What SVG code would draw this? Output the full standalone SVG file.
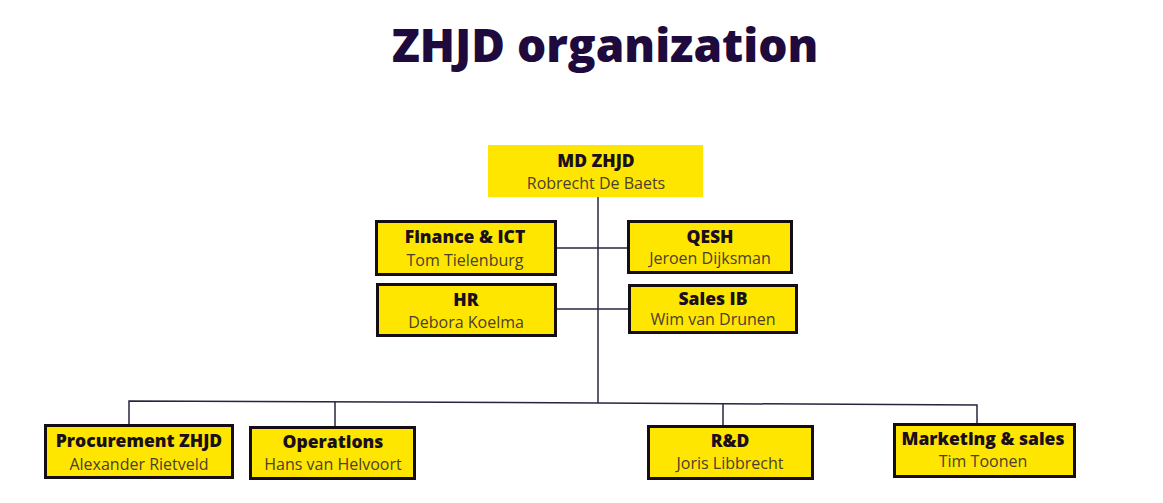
<svg xmlns="http://www.w3.org/2000/svg" width="1163" height="503" viewBox="0 0 1163 503">
<style>
.box{fill:#FFE600;stroke:#140d14;stroke-width:3}
.t{font-family:"Open Sans","Noto Sans",sans-serif;font-weight:800;font-size:17.5px;fill:#1a0f1c;text-anchor:middle}
.n{font-family:"Open Sans","Noto Sans",sans-serif;font-weight:400;font-size:16px;fill:#4a4030;text-anchor:middle}
.c{fill:none;stroke:#2a2340;stroke-width:1.5}
</style>
<rect width="1163" height="503" fill="#fff"/>
<text x="605" y="62" font-family="'Open Sans','Noto Sans',sans-serif" font-weight="800" font-size="46" fill="#1e0a3c" text-anchor="middle">ZHJD organization</text>
<g id="connectors">
<line class="c" x1="598" y1="192" x2="598" y2="403"/>
<line class="c" x1="556" y1="248" x2="628" y2="248"/>
<line class="c" x1="556" y1="309" x2="629" y2="309"/>
<polyline class="c" points="129,427 129,401 598,403 977,405 977,426"/>
<line class="c" x1="335" y1="401.5" x2="335" y2="428"/>
<line class="c" x1="723" y1="404" x2="723" y2="427"/>
</g>
<g id="md">
<rect x="488" y="145" width="215" height="52" fill="#FFE600"/>
<text class="t" x="596" y="167">MD ZHJD</text>
<text class="n" x="596" y="189">Robrecht De Baets</text>
</g>
<g id="finance">
<rect class="box" x="376.5" y="221.5" width="179" height="53"/>
<text class="t" x="465" y="243">Finance &amp; ICT</text>
<text class="n" x="465" y="266" fill="#2a2520">Tom Tielenburg</text>
</g>
<g id="qesh">
<rect class="box" x="628.5" y="221.5" width="163" height="51"/>
<text class="t" x="710" y="243">QESH</text>
<text class="n" x="710" y="264">Jeroen Dijksman</text>
</g>
<g id="hr">
<rect class="box" x="377.5" y="284.5" width="178" height="51"/>
<text class="t" x="466" y="306">HR</text>
<text class="n" x="466" y="328">Debora Koelma</text>
</g>
<g id="sales">
<rect class="box" x="629.5" y="285.5" width="167" height="47"/>
<text class="t" x="713" y="305">Sales IB</text>
<text class="n" x="713" y="325">Wim van Drunen</text>
</g>
<g id="procurement">
<rect class="box" x="45.5" y="425.5" width="187" height="52"/>
<text class="t" x="139" y="447">Procurement ZHJD</text>
<text class="n" x="139" y="470">Alexander Rietveld</text>
</g>
<g id="operations">
<rect class="box" x="250.5" y="427.5" width="164" height="51"/>
<text class="t" x="333" y="448">Operations</text>
<text class="n" x="333" y="470">Hans van Helvoort</text>
</g>
<g id="rd">
<rect class="box" x="648.5" y="426.5" width="164" height="52"/>
<text class="t" x="730" y="447">R&amp;D</text>
<text class="n" x="730" y="469">Joris Libbrecht</text>
</g>
<g id="marketing">
<rect class="box" x="894.5" y="424.5" width="180" height="52"/>
<text class="t" x="983" y="445">Marketing &amp; sales</text>
<text class="n" x="983" y="467">Tim Toonen</text>
</g>
</svg>
